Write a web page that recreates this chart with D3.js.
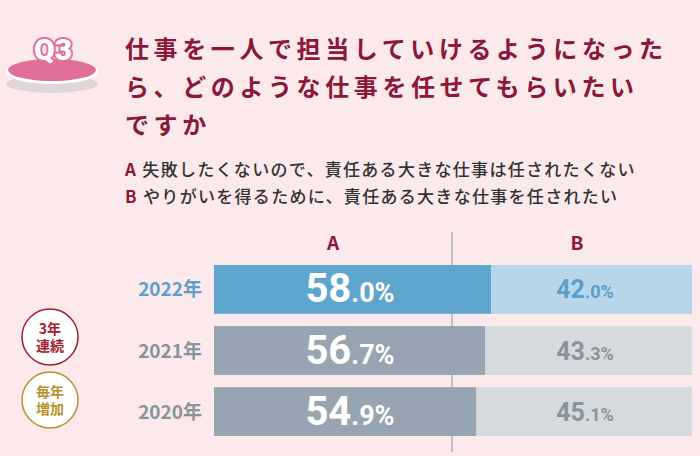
<!DOCTYPE html><html><head><meta charset="utf-8"><script src="https://cdn.jsdelivr.net/npm/d3@7"></script>
<style>body{margin:0;background:#fbe9ec;font-family:"Noto Sans CJK JP",sans-serif}</style></head><body><svg id="c" width="700" height="456"></svg>
<script>
const years=["2022年","2021年","2020年"];
const valuesA=[58.0,56.7,54.9];
const valuesB=[42.0,43.3,45.1];
const seriesLabels=["A","B"];
const svg=d3.select("#c");
const F='"Noto Sans CJK JP",sans-serif';
svg.append("rect").attr("width",700).attr("height",456).attr("fill","#fbe9ec");
svg.append("ellipse").attr("cx",52).attr("cy",84).attr("rx",46).attr("ry",9).attr("fill","#e0d6d8");
svg.append("ellipse").attr("cx",52).attr("cy",72).attr("rx",46).attr("ry",12).attr("fill","#fff");
svg.append("ellipse").attr("cx",52).attr("cy",70).attr("rx",44).attr("ry",11).attr("fill","#e07099");
svg.append("text").attr("x",53).attr("y",60).attr("text-anchor","middle").attr("font-family","Roboto,sans-serif").attr("font-weight",900).attr("font-size",30).attr("fill","#fff").attr("stroke","#e07099").attr("stroke-width",4).attr("paint-order","stroke").text("Q3");
const title=["仕事を一人で担当していけるようになった","ら、どのような仕事を任せてもらいたい","ですか"];
title.forEach((t,i)=>svg.append("text").attr("x",125).attr("y",58+i*38).attr("font-family",F).attr("font-weight",700).attr("font-size",24).attr("letter-spacing",4.6).attr("fill","#8b1838").text(t));
const legend=[["A","失敗したくないので、責任ある大きな仕事は任されたくない"],["B","やりがいを得るために、責任ある大きな仕事を任されたい"]];
legend.forEach((l,i)=>{const t=svg.append("text").attr("x",125).attr("y",176+i*27).attr("font-family",F).attr("font-weight",500).attr("font-size",17).attr("letter-spacing",1.3).attr("fill","#333");
t.append("tspan").attr("fill","#8b1838").attr("font-weight",700).text(l[0]+" ");t.append("tspan").text(l[1]);});
const x=d3.scaleLinear().domain([0,100]).range([214,692]);
const y=d3.scaleBand().domain(years).range([265,436]).paddingInner(0.2);
svg.append("line").attr("x1",452).attr("x2",452).attr("y1",232).attr("y2",452).attr("stroke","#aab3bc").attr("stroke-width",1.5);
svg.selectAll(".h").data(seriesLabels).join("text").attr("x",(d,i)=>i?577:333).attr("y",250).attr("text-anchor","middle").attr("font-family",F).attr("font-weight",700).attr("font-size",19).attr("fill","#8b1838").text(d=>d);
years.forEach((yr,i)=>{
 const hi=i===0;
 svg.append("rect").attr("x",x(0)).attr("y",y(yr)).attr("width",x(valuesA[i])-x(0)).attr("height",y.bandwidth()).attr("fill",hi?"#5fa6cf":"#96a5b1");
 svg.append("rect").attr("x",x(valuesA[i])).attr("y",y(yr)).attr("width",x(100)-x(valuesA[i])).attr("height",y.bandwidth()).attr("fill",hi?"#b8d6e9":"#d5dadf");
 const cy=y(yr)+y.bandwidth()/2;
 svg.append("text").attr("x",202).attr("y",cy+7).attr("text-anchor","end").attr("font-family",F).attr("font-weight",700).attr("font-size",19).attr("fill",hi?"#5b9fca":"#8a939b").text(yr);
 const a=valuesA[i].toFixed(1).split(".");
 const ta=svg.append("text").attr("x",350).attr("y",cy+13).attr("text-anchor","middle").attr("font-family","Roboto,sans-serif").attr("font-weight",700).attr("fill","#fff");
 ta.append("tspan").attr("font-size",40).text(a[0]);ta.append("tspan").attr("font-size",27).text("."+a[1]+"%");
 const b=valuesB[i].toFixed(1).split(".");
 const tb=svg.append("text").attr("x",585).attr("y",cy+9).attr("text-anchor","middle").attr("font-family","Roboto,sans-serif").attr("font-weight",700).attr("fill",hi?"#5b9fca":"#8a939b");
 tb.append("tspan").attr("font-size",25).text(b[0]);tb.append("tspan").attr("font-size",18).text("."+b[1]+"%");
});
[[50,337,"#a02030",["3年","連続"]],[50,400,"#b8902c",["毎年","増加"]]].forEach(([cx,cy,c,t])=>{
 svg.append("circle").attr("cx",cx).attr("cy",cy).attr("r",28).attr("fill","#fff").attr("stroke",c).attr("stroke-width",1.5);
 t.forEach((s,j)=>svg.append("text").attr("x",cx).attr("y",cy-3+j*17).attr("text-anchor","middle").attr("font-family",F).attr("font-weight",700).attr("font-size",14).attr("fill",c).text(s));
});
</script></body></html>
